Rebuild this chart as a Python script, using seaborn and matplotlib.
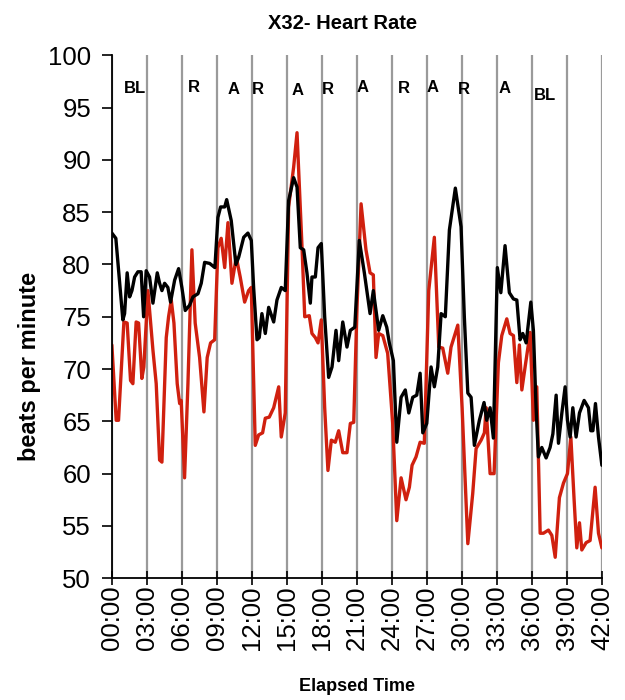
import numpy as np
import pandas as pd
import matplotlib
matplotlib.use("Agg")
import matplotlib.pyplot as plt
import seaborn as sns

# black trace (minutes, bpm)
black_t = [0, 0.34, 0.94, 1.09, 1.31, 1.52, 1.72, 1.95, 2.23, 2.51, 2.72, 2.94, 3.23, 3.52,
           3.89, 4.09, 4.29, 4.52, 4.80, 5.03, 5.38, 5.72, 6.00, 6.29, 6.66, 6.95, 7.38, 7.66,
           7.95, 8.38, 8.83, 9.09, 9.32, 9.67, 9.84, 10.23, 10.63, 10.87, 11.3, 11.66, 11.95,
           12.15, 12.44, 12.63, 12.86, 13.15, 13.44, 13.87, 14.15, 14.52, 14.86, 15.15, 15.58,
           15.87, 16.15, 16.44, 16.72, 17.01, 17.15, 17.44, 17.67, 17.95, 18.24, 18.58, 18.87,
           19.21, 19.44, 19.79, 20.15, 20.44, 20.82, 21.21, 21.64, 22.13, 22.41, 22.87, 23.22,
           23.56, 23.78, 24.13, 24.42, 24.79, 25.15, 25.45, 25.79, 26.13, 26.42, 26.65, 26.99,
           27.36, 27.64, 27.93, 28.22, 28.58, 28.93, 29.44, 29.93, 30.21, 30.51, 30.79, 31.07,
           31.5, 31.9, 32.13, 32.42, 32.7, 33.04, 33.34, 33.7, 34.07, 34.42, 34.71, 34.99,
           35.22, 35.51, 35.91, 36.13, 36.36, 36.56, 36.85, 37.22, 37.56, 37.8, 38.08, 38.28,
           38.57, 38.85, 39.05, 39.28, 39.51, 39.79, 40.08, 40.48, 40.85, 41.05, 41.23, 41.45,
           41.71, 42.0]
black_bpm = [83.0, 82.5, 74.7, 75.3, 79.2, 76.9, 77.5, 78.8, 79.3, 79.3, 75.0, 79.4, 78.8, 76.3,
             79.2, 78.2, 77.5, 78.2, 77.8, 76.4, 78.5, 79.6, 77.8, 75.6, 76.1, 76.9, 77.2, 78.2,
             80.2, 80.1, 79.7, 84.5, 85.5, 85.5, 86.2, 84.2, 80.0, 80.7, 82.6, 83.0, 82.3,
             77.8, 72.8, 73.0, 75.3, 73.4, 75.9, 74.5, 76.6, 77.8, 77.5, 86.1, 88.3,
             87.4, 81.6, 81.4, 79.2, 76.3, 78.8, 78.8, 81.6, 82.0, 75.0, 69.2, 70.2,
             73.7, 70.8, 74.5, 72.1, 73.7, 74.0, 82.3, 79.2, 75.3, 77.5, 73.7, 75.1,
             74.0, 72.5, 70.8, 63.0, 67.3, 68.0, 65.8, 67.3, 67.5, 69.6, 63.9, 64.8,
             70.2, 68.3, 70.2, 75.3, 75.0, 83.3, 87.3, 83.6, 75.0, 67.7, 67.3, 62.7,
             65.1, 66.8, 65.1, 66.3, 63.4, 79.7, 77.3, 81.8, 77.3, 76.7, 76.6, 72.8,
             73.4, 72.5, 76.4, 73.7, 66.3, 61.6, 62.5, 61.5, 62.5, 63.8, 67.5, 62.9,
             65.8, 68.3, 65.1, 63.5, 66.3, 63.5, 65.8, 67.0, 66.3, 64.1, 64.1, 66.7,
             63.5, 60.8]

# red trace (minutes, bpm)
red_t = [0, 0.37, 0.57, 1.03, 1.31, 1.6, 1.8, 2.08, 2.29, 2.57, 2.74, 3.09, 3.52, 3.8, 4.09,
         4.29, 4.66, 4.86, 5.09, 5.32, 5.6, 5.81, 5.94, 6.23, 6.52, 6.86, 7.14, 7.52, 7.89,
         8.17, 8.46, 8.81, 9.09, 9.37, 9.67, 9.95, 10.29, 10.66, 11.0, 11.38, 11.72, 11.95,
         12.29, 12.58, 12.92, 13.15, 13.49, 13.87, 14.3, 14.52, 14.86, 15.15, 15.58, 15.87,
         16.3, 16.53, 16.92, 17.15, 17.44, 17.67, 17.95, 18.24, 18.52, 18.81, 19.15, 19.44,
         19.79, 20.15, 20.44, 20.73, 21.01, 21.36, 21.78, 22.13, 22.41, 22.64, 22.87, 23.22,
         23.64, 24.07, 24.42, 24.79, 25.21, 25.5, 25.73, 26.07, 26.42, 26.78, 27.16, 27.64,
         28.02, 28.36, 28.79, 29.07, 29.65, 30.02, 30.51, 30.93, 31.22, 31.65, 31.93, 32.08,
         32.42, 32.76, 33.13, 33.42, 33.85, 34.13, 34.42, 34.71, 34.93, 35.14, 35.42, 35.85,
         36.13, 36.42, 36.71, 36.99, 37.42, 37.71, 38.0, 38.36, 38.71, 39.05, 39.34, 39.62,
         39.85, 40.08, 40.28, 40.65, 40.99, 41.42, 41.71, 42.0]
red_bpm = [72.3, 65.1, 65.1, 74.5, 74.4, 68.9, 68.6, 74.5, 74.4, 69.1, 70.2, 77.5, 71.8, 68.6, 61.3,
           61.1, 73.0, 75.0, 76.6, 74.4, 68.6, 66.7, 67.0, 59.6, 68.6, 81.4, 74.4, 71.1, 65.9,
           71.1, 72.5, 72.8, 81.6, 82.5, 79.7, 84.0, 78.2, 80.7, 78.8, 76.4, 77.5, 77.8,
           62.7, 63.7, 63.9, 65.3, 65.4, 66.3, 68.3, 63.5, 65.8, 85.5, 89.3, 92.6,
           81.6, 75.0, 75.1, 73.4, 73.0, 72.5, 74.7, 66.3, 60.3, 63.2, 63.0, 64.1,
           62.0, 62.0, 64.8, 64.9, 75.9, 85.8, 81.4, 79.2, 79.0, 71.1, 73.4, 73.2,
           71.5, 64.8, 55.5, 59.6, 57.5, 58.7, 60.8, 61.6, 63.0, 62.9, 77.5, 82.6,
           72.1, 72.0, 69.6, 72.1, 74.2, 66.3, 53.3, 58.1, 62.4, 63.2, 63.9, 66.3,
           60.0, 60.0, 70.6, 73.2, 74.8, 73.4, 73.2, 68.7, 72.3, 68.0, 70.2, 73.5,
           65.1, 68.3, 54.3, 54.3, 54.6, 54.1, 52.0, 57.7, 59.1, 60.0, 63.5, 57.5,
           52.9, 55.3, 52.7, 53.4, 53.6, 58.7, 54.3, 52.9]

# phase labels
phase_names = ["BL", "R", "A", "R", "A", "R", "A", "R", "A", "R", "A", "BL"]
phase_t = [2.0, 7.0, 10.4, 12.5, 15.9, 18.5, 21.5, 25.0, 27.5, 30.2, 33.7, 37.1]
phase_y = [96.8, 96.9, 96.7, 96.7, 96.6, 96.7, 96.9, 96.8, 96.9, 96.7, 96.8, 96.2]

tick_minutes = list(range(0, 43, 3))
tick_labels = ["%02d:00" % m for m in tick_minutes]

sns.set_style("ticks")
plt.rcParams['font.family'] = ['Liberation Sans', 'DejaVu Sans']
plt.rcParams['text.color'] = 'black'
plt.rcParams['axes.labelcolor'] = 'black'
plt.rcParams['xtick.color'] = 'black'
plt.rcParams['ytick.color'] = 'black'
plt.rcParams['axes.edgecolor'] = 'black'

fig = plt.figure(figsize=(6.25, 7), dpi=100)
ax = fig.add_axes([0.179, 0.174, 0.784, 0.747])

black_df = pd.DataFrame({'t': black_t, 'bpm': black_bpm})
red_df = pd.DataFrame({'t': red_t, 'bpm': red_bpm})

ax.set_xticks(tick_minutes)
ax.set_xticklabels(tick_labels, rotation=90)
ax.grid(True, axis='x', color='#9a9a9a', linewidth=1.6)
ax.set_axisbelow(True)

sns.lineplot(data=red_df, x='t', y='bpm', ax=ax, color='#d0200f', linewidth=2.4, sort=False)
sns.lineplot(data=black_df, x='t', y='bpm', ax=ax, color='black', linewidth=2.4, sort=False)

for name, t, y in zip(phase_names, phase_t, phase_y):
    ax.text(t, y, name, ha='center', va='center', fontsize=12, fontweight='bold', color='black')

ax.set_xlim(0, 42)
ax.set_ylim(50, 100)
ax.set_yticks(np.arange(50, 101, 5))
ax.tick_params(axis='y', direction='out', length=7, width=1.2, labelsize=18.5, pad=8)
ax.tick_params(axis='x', direction='inout', length=10, width=1.2, labelsize=18.5, pad=0)
sns.despine(ax=ax)
ax.spines['left'].set_linewidth(1.3)
ax.spines['bottom'].set_linewidth(1.3)

ax.set_title('X32- Heart Rate', fontsize=14.5, fontweight='bold', pad=19, x=0.47)
ax.set_ylabel('beats per minute', fontsize=17, fontweight='bold')
ax.yaxis.set_label_coords(-0.145, 0.405)
ax.set_xlabel('Elapsed Time', fontsize=13, fontweight='bold', labelpad=20)

fig.savefig('out.png', dpi=100)
